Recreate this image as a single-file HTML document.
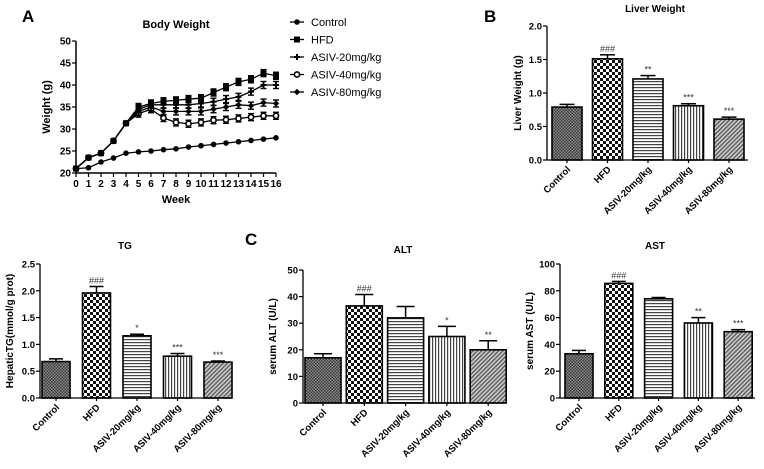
<!DOCTYPE html>
<html><head><meta charset="utf-8">
<style>
html,body{margin:0;padding:0;background:#fff;}
svg{display:block;font-family:"Liberation Sans",Arial,sans-serif;}
</style></head>
<body>
<svg id="fig" width="764" height="469" viewBox="0 0 764 469" xmlns="http://www.w3.org/2000/svg">
<defs>
  <pattern id="pCtrl" width="3" height="3" patternUnits="userSpaceOnUse"><rect width="3" height="3" fill="#8a8a8a"/><rect width="1.5" height="1.5" fill="#3a3a3a"/><rect x="1.5" y="1.5" width="1.5" height="1.5" fill="#3a3a3a"/></pattern>
  <pattern id="pHFD" width="6" height="6" patternUnits="userSpaceOnUse"><rect width="6" height="6" fill="#fff"/><rect width="3" height="3" fill="#111"/><rect x="3" y="3" width="3" height="3" fill="#111"/></pattern>
  <pattern id="p20" width="4" height="3" patternUnits="userSpaceOnUse"><rect width="4" height="3" fill="#fff"/><rect width="4" height="1.2" fill="#444"/></pattern>
  <pattern id="p40" width="3" height="4" patternUnits="userSpaceOnUse"><rect width="3" height="4" fill="#fff"/><rect width="1.2" height="4" fill="#444"/></pattern>
  <pattern id="p80" width="3" height="3" patternUnits="userSpaceOnUse" patternTransform="rotate(45)"><rect width="3" height="3" fill="#ccc"/><rect width="1.3" height="3" fill="#555"/></pattern>
</defs>
<text x="22" y="22" font-size="17" font-weight="bold">A</text>
<text x="484" y="22" font-size="17" font-weight="bold">B</text>
<text x="245" y="245" font-size="17" font-weight="bold">C</text>
</svg>
<script>
// ---- Panel A data ----
const weeks = [0,1,2,3,4,5,6,7,8,9,10,11,12,13,14,15,16];
const bwControl = [21,21.2,22.5,23.4,24.5,24.8,25,25.3,25.5,25.9,26.2,26.5,26.8,27.1,27.4,27.7,28];
const bwHFD = [21,23.5,24.5,27.3,31.3,35,35.8,36.3,36.5,36.8,37,38.3,39.5,40.7,41.3,42.7,42.1];
const bwASIV20 = [21,23.5,24.5,27.3,31.3,34.5,35.5,35.5,35.5,35.5,35.8,36.2,36.8,37.3,38.5,40,40];
const bwASIV40 = [21,23.5,24.5,27.3,31.3,33.5,34.5,32.5,31.5,31.2,31.5,32,32.1,32.4,32.7,33,33];
const bwASIV80 = [21,23.5,24.5,27.3,31.3,34,35,34,34,34,34,34.5,35,35.5,35.3,36,35.8];
const bwTicks = [20,25,30,35,40,45,50];
const seriesNames = ["Control","HFD","ASIV-20mg/kg","ASIV-40mg/kg","ASIV-80mg/kg"];

// ---- Bar panels data ----
const categories = ["Control","HFD","ASIV-20mg/kg","ASIV-40mg/kg","ASIV-80mg/kg"];
const liverValues = [0.79,1.51,1.21,0.81,0.61];
const liverErrors = [0.04,0.06,0.05,0.03,0.03];
const liverMarks = ["","###","**","***","***"];
const liverTicks = [0,0.5,1.0,1.5,2.0];
const tgValues = [0.68,1.96,1.16,0.78,0.67];
const tgErrors = [0.05,0.12,0.03,0.05,0.02];
const tgMarks = ["","###","*","***","***"];
const tgTicks = [0,0.5,1.0,1.5,2.0,2.5];
const altValues = [17,36.5,32,25,20];
const altErrors = [1.5,4.3,4.3,3.8,3.4];
const altMarks = ["","###","","*","**"];
const altTicks = [0,10,20,30,40,50];
const astValues = [33,85.5,74,56,49.5];
const astErrors = [2.5,1.5,1,4,1.5];
const astMarks = ["","###","","**","***"];
const astTicks = [0,20,40,60,80,100];

const NS="http://www.w3.org/2000/svg";
const svg=document.getElementById('fig');
function mk(tag,attrs,parent,text){const e=document.createElementNS(NS,tag);for(const k in attrs)e.setAttribute(k,attrs[k]);if(text!==undefined)e.textContent=text;(parent||svg).appendChild(e);return e;}

// ---- Panel A ----
(function(){
  const g=mk('g',{});
  
  
  const X0=76,X1=276,Y0=173,Y1=41;
  const sx=v=>X0+(v-0)/16*(X1-X0);
  const sy=v=>Y0-(v-20)/30*(Y0-Y1);
  const t=mk('text',{x:176,y:28,'font-size':11,'font-weight':'bold','text-anchor':'middle'},g,'Body Weight');
  
  
  mk('line',{x1:X0,y1:Y1,x2:X0,y2:Y0,stroke:'#000','stroke-width':1.5},g);
  mk('line',{x1:X0,y1:Y0,x2:X1,y2:Y0,stroke:'#000','stroke-width':1.5},g);
  bwTicks.forEach(v=>{
    mk('line',{x1:X0-4,y1:sy(v),x2:X0,y2:sy(v),stroke:'#000','stroke-width':1.2},g);
    const l=mk('text',{x:X0-5,y:sy(v)+3.5,'font-size':10,'font-weight':'bold','text-anchor':'end'},g,String(v));
    
    
  });
  weeks.forEach(w=>{
    mk('line',{x1:sx(w),y1:Y0,x2:sx(w),y2:Y0+4,stroke:'#000','stroke-width':1.2},g);
    const l=mk('text',{x:sx(w),y:Y0+14,'font-size':10,'font-weight':'bold','text-anchor':'middle'},g,String(w));
    
    
  });
  const xl=mk('text',{x:176,y:203,'font-size':11,'font-weight':'bold','text-anchor':'middle'},g,'Week');
  
  
  const yl=mk('text',{x:0,y:0,'font-size':11,'font-weight':'bold','text-anchor':'middle',transform:'translate(50,107) rotate(-90)'},g,'Weight (g)');
  
  
  const all=[bwControl,bwHFD,bwASIV20,bwASIV40,bwASIV80];
  const marker=(type,x,y,par)=>{
    if(type===0) mk('circle',{cx:x,cy:y,r:2.8,fill:'#000'},par);
    else if(type===1) mk('rect',{x:x-3,y:y-3,width:6,height:6,fill:'#000'},par);
    else if(type===2){mk('line',{x1:x-3,y1:y,x2:x+3,y2:y,stroke:'#000','stroke-width':2},par);mk('line',{x1:x,y1:y-3,x2:x,y2:y+3,stroke:'#000','stroke-width':2},par);}
    else if(type===3) mk('circle',{cx:x,cy:y,r:2.6,fill:'#fff',stroke:'#000','stroke-width':1.6},par);
    else mk('path',{d:`M${x-3.2} ${y}L${x} ${y-3.2}L${x+3.2} ${y}L${x} ${y+3.2}Z`,fill:'#000'},par);
  };
  all.forEach((arr,si)=>{
    const sg=mk('g',{},g);
    
    
    mk('polyline',{points:arr.map((v,i)=>sx(weeks[i])+','+sy(v)).join(' '),fill:'none',stroke:'#000','stroke-width':1.3},sg);
    arr.forEach((v,i)=>{
      if(si>0&&i>=5){const e=0.8;mk('line',{x1:sx(weeks[i]),y1:sy(v-e),x2:sx(weeks[i]),y2:sy(v+e),stroke:'#000','stroke-width':1.4},sg);
        mk('line',{x1:sx(weeks[i])-3,y1:sy(v+e),x2:sx(weeks[i])+3,y2:sy(v+e),stroke:'#000','stroke-width':1.4},sg);
        mk('line',{x1:sx(weeks[i])-3,y1:sy(v-e),x2:sx(weeks[i])+3,y2:sy(v-e),stroke:'#000','stroke-width':1.4},sg);}
      marker(si,sx(weeks[i]),sy(v),sg);
    });
  });
  seriesNames.forEach((n,i)=>{
    const y=22+i*17.5;
    const lg=mk('g',{},g);
    
    
    mk('line',{x1:290,y1:y,x2:304,y2:y,stroke:'#000','stroke-width':1.3},lg);
    marker(i,297,y,lg);
    mk('text',{x:311,y:y+4,'font-size':11},lg,n);
  });
})();

// ---- Bar panels ----
const fills=['url(#pCtrl)','url(#pHFD)','url(#p20)','url(#p40)','url(#p80)'];
function barChart(cfg,values,errors,marks,ticks){
  const g=mk('g',{});
  
  
  const max=ticks[ticks.length-1];
  const sy=v=>cfg.y0-v/max*(cfg.y0-cfg.yTop);
  const sx=i=>cfg.c0+i*cfg.step;
  const t=mk('text',{x:cfg.tx,y:cfg.ty,'font-size':10,'font-weight':'bold','text-anchor':'middle'},g,cfg.title);
  
  
  values.forEach((v,i)=>{
    const x=sx(i),w=cfg.w;
    const b=mk('rect',{x:x-w/2,y:sy(v),width:w,height:cfg.y0-sy(v),fill:fills[i],stroke:'#000','stroke-width':1.6},g);
    
    
    const top=sy(v+errors[i]);
    mk('line',{x1:x,y1:sy(v),x2:x,y2:top,stroke:'#000','stroke-width':1.5},g);
    mk('line',{x1:x-w/4,y1:top,x2:x+w/4,y2:top,stroke:'#000','stroke-width':1.5},g);
    if(marks[i]){const m=mk('text',{x:x,y:top-3,'font-size':9,'text-anchor':'middle',fill:'#333'},g,marks[i]);
      
      }
    mk('line',{x1:x,y1:cfg.y0,x2:x,y2:cfg.y0+3,stroke:'#000','stroke-width':1.2},g);
    const cl=mk('text',{x:0,y:0,'font-size':9.5,'font-weight':'bold','text-anchor':'end',transform:`translate(${x+4},${cfg.y0+10}) rotate(-45)`},g,categories[i]);
    
    
  });
  mk('line',{x1:cfg.x0,y1:cfg.yTop,x2:cfg.x0,y2:cfg.y0,stroke:'#000','stroke-width':1.3},g);
  mk('line',{x1:cfg.x0,y1:cfg.y0,x2:cfg.x1,y2:cfg.y0,stroke:'#000','stroke-width':1.3},g);
  ticks.forEach(v=>{
    mk('line',{x1:cfg.x0-4,y1:sy(v),x2:cfg.x0,y2:sy(v),stroke:'#000','stroke-width':1.2},g);
    const l=mk('text',{x:cfg.x0-5,y:sy(v)+3.5,'font-size':9.5,'font-weight':'bold','text-anchor':'end'},g,cfg.dec?v.toFixed(1):String(v));
    
    
  });
  const yl=mk('text',{x:0,y:0,'font-size':10,'font-weight':'bold','text-anchor':'middle',transform:`translate(${cfg.ylx},${(cfg.y0+cfg.yTop)/2}) rotate(-90)`},g,cfg.ylabel);
  
  
}
barChart({name:'liver-weight-chart',title:'Liver Weight',tx:655,ty:12,x0:547,x1:748,y0:160,yTop:26,c0:567,step:40.5,w:30,dec:true,ylabel:'Liver Weight (g)',ylx:521},liverValues,liverErrors,liverMarks,liverTicks);
barChart({name:'tg-chart',title:'TG',tx:125,ty:249,x0:40,x1:231,y0:398,yTop:264,c0:56,step:40.5,w:28,dec:true,ylabel:'HepaticTG(mmol/g prot)',ylx:13},tgValues,tgErrors,tgMarks,tgTicks);
barChart({name:'alt-chart',title:'ALT',tx:403,ty:253,x0:303,x1:505,y0:403,yTop:270,c0:323,step:41.3,w:36,dec:false,ylabel:'serum ALT (U/L)',ylx:276},altValues,altErrors,altMarks,altTicks);
barChart({name:'ast-chart',title:'AST',tx:655,ty:249,x0:560,x1:755,y0:398,yTop:264,c0:579,step:39.8,w:28,dec:false,ylabel:'serum AST (U/L)',ylx:533},astValues,astErrors,astMarks,astTicks);
</script>
</body></html>
